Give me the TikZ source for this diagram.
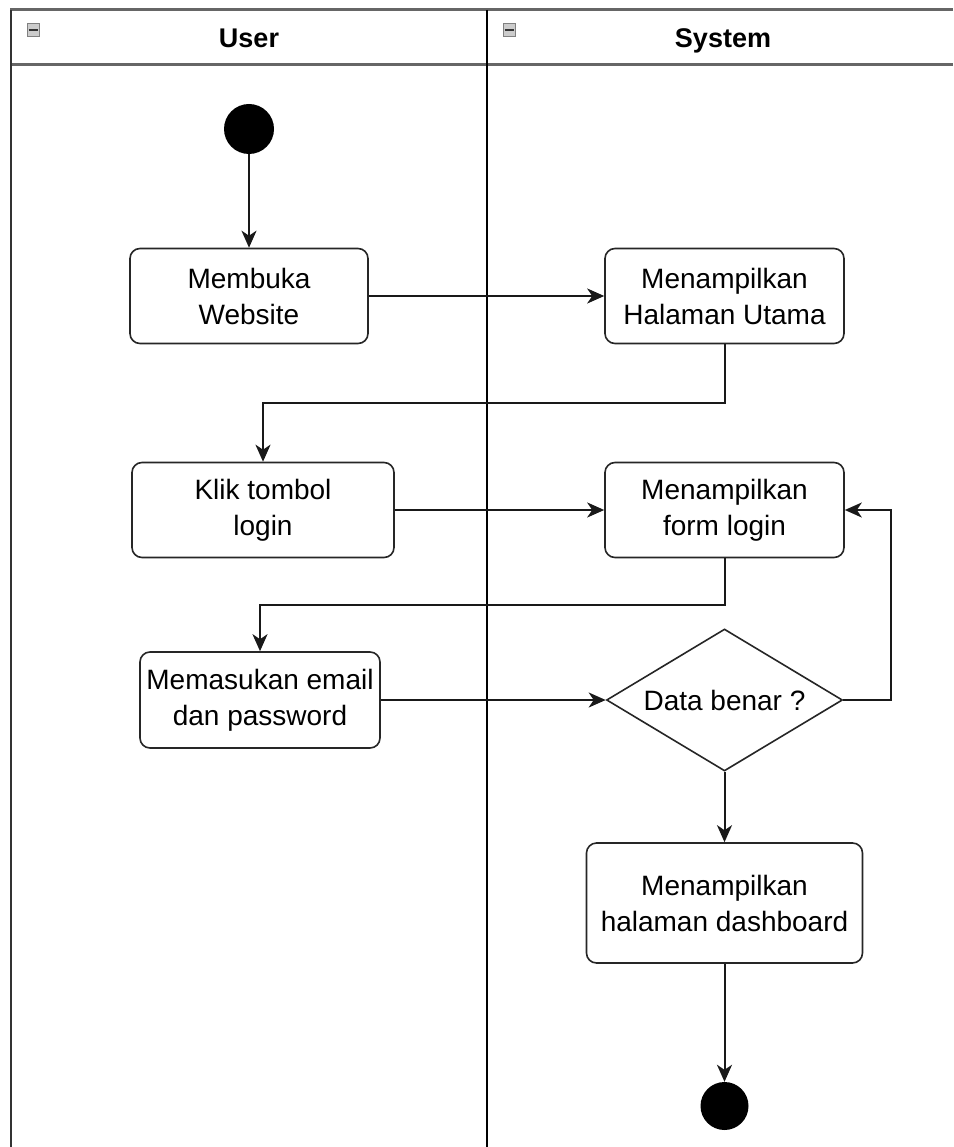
\documentclass[tikz,border=0pt]{standalone}
\usepackage{fontspec}
\setmainfont{Liberation Sans}
\usetikzlibrary{shapes.geometric,arrows.meta}

\tikzset{
  action/.style={draw=black!85, line width=1.6pt, rounded corners=10pt, fill=white,
    align=center, inner sep=0pt, font=\fontsize{28}{36}\selectfont},
  decision/.style={diamond, aspect=1.66, draw=black!85, line width=1.6pt, fill=white,
    align=center, inner sep=0pt, font=\fontsize{28}{36}\selectfont},
  terminal/.style={circle, fill=black, draw=none, inner sep=0pt},
  flow/.style={draw=black!90, line width=2pt,
    -{Stealth[length=17pt, width=15pt, inset=5pt]}},
  poolrule/.style={draw=black!60, line width=3pt},
  lanerule/.style={draw=black, line width=1.8pt},
  lanetitle/.style={font=\bfseries\fontsize{27}{32}\selectfont,
    text height=19.5pt, text depth=0pt, inner sep=0pt},
  foldicon/.style={draw=black!50, fill=black!20, line width=0.8pt},
}

\begin{document}
\begin{tikzpicture}[x=1pt, y=-1pt]
\useasboundingbox (0,0) rectangle (953,1147);

% swimlane frame
\draw[poolrule] (10,10) -- (953,10);
\draw[poolrule] (10,65) -- (953,65);
\draw[draw=black!80, line width=2.5pt] (11,10) -- (11,1147);
\draw[lanerule] (487,10) -- (487,1147);

% collapse icons in the lane headers
\foreach \ix in {27,503} {
  \draw[foldicon] (\ix,23.5) rectangle ++(12,13);
  \draw[black!80, line width=2.2pt] (\ix+1.5,30) -- ++(9,0);
}

\node[lanetitle] (userlane) at (249,38) {User};
\node[lanetitle] (syslane) at (723,38) {System};

% activities
\node[terminal, minimum size=50pt] (start) at (249,129) {};
\node[action, minimum width=238pt, minimum height=95pt] (open) at (249,296) {Membuka\\Website};
\node[action, minimum width=239pt, minimum height=95pt] (home) at (724.5,296) {Menampilkan\\Halaman Utama};
\node[action, minimum width=262pt, minimum height=95pt] (click) at (263,510) {Klik tombol\\login};
\node[action, minimum width=239pt, minimum height=95pt] (form) at (724.5,510) {Menampilkan\\form login};
\node[action, minimum width=240pt, minimum height=96pt] (input) at (260,700) {Memasukan email\\dan password};
\node[decision, minimum width=236pt, minimum height=142pt] (check) at (724.5,700) {Data benar ?};
\node[action, minimum width=276pt, minimum height=120pt] (dash) at (724.5,903) {Menampilkan\\halaman dashboard};
\node[terminal, minimum size=48pt] (stop) at (724.5,1106) {};

% control flow
\draw[flow] (start) -- (open);
\draw[flow] (open) -- (home);
\draw[flow] (home.south) -- ++(0,59) -| (click.north);
\draw[flow] (click) -- (form);
\draw[flow] (form.south) -- ++(0,47) -| (input.north);
\draw[flow] (input) -- (check);
\draw[flow] (check.east) -- ++(48,0) |- (form.east);
\draw[flow] (check) -- (dash);
\draw[flow] (dash) -- (stop);
\end{tikzpicture}
\end{document}
